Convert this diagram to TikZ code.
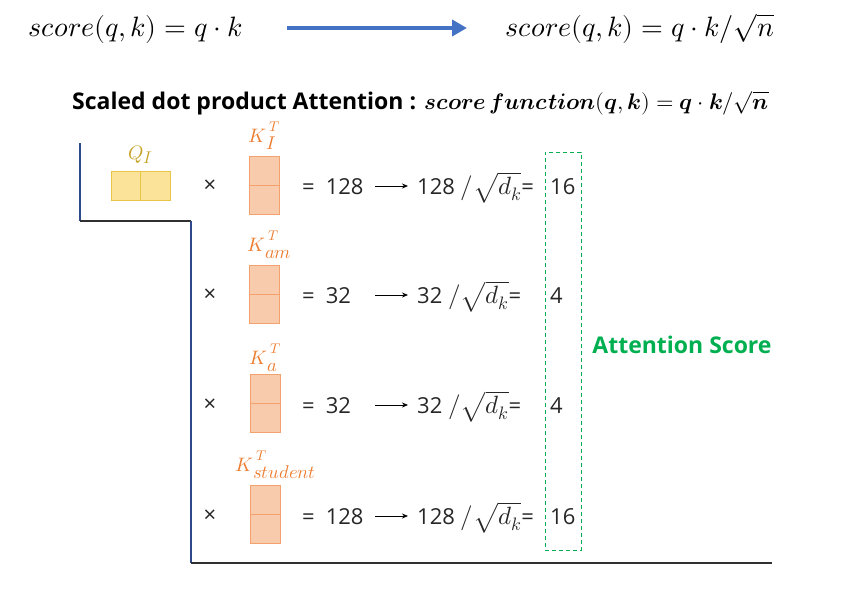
\documentclass[tikz,border=0pt]{standalone}
\usepackage{amsmath}
\usepackage{fontspec}
\usepackage{unicode-math}
\setmathfont{Latin Modern Math}
\newfontfamily\txtfont{Open Sans}
\usetikzlibrary{arrows.meta}
\definecolor{qfill}{HTML}{FBE39A}
\definecolor{qdraw}{HTML}{E8C547}
\definecolor{qtext}{HTML}{C8A22A}
\definecolor{kfill}{HTML}{F8CBAD}
\definecolor{kdraw}{HTML}{F4A26D}
\definecolor{ktext}{HTML}{ED7D31}
\definecolor{agreen}{HTML}{00B050}
\definecolor{ablue}{HTML}{4472C4}
\definecolor{lineblue}{HTML}{2F4A8A}
\definecolor{linedark}{HTML}{303030}
\tikzset{
  bigmath/.style={inner sep=0, font=\fontsize{28}{32}\selectfont},
  rowtxt/.style={anchor=base west, inner sep=0, font=\txtfont\fontsize{22}{26}\selectfont, text=black!85},
  qcell/.style={draw=qdraw, fill=qfill, minimum width=29.5, minimum height=29, inner sep=0, line width=0.8},
  kcell/.style={draw=kdraw, fill=kfill, minimum width=30, minimum height=29, inner sep=0, line width=0.8},
  klabel/.style={anchor=base west, inner sep=0, text=ktext, font=\fontsize{19.5}{22}\selectfont},
  frameblue/.style={draw=lineblue, line width=1.3},
  framedark/.style={draw=linedark, line width=1.3},
  rowarrow/.style={draw=black, line width=0.8, -{Stealth[length=6,width=5]}},
}
% text at a fixed size, in math italic
\newcommand{\fs}[2]{\hbox{\fontsize{#1}{#1}\selectfont$#2$}}
% K label: K, raised T, lowered subscript (all nearly full size)
\newcommand{\klab}[2]{$#1$\makebox[0pt][l]{\hspace{3pt}\raisebox{11pt}{\fs{14}{T}}}\raisebox{-7pt}{\fs{18.5}{#2}}}
\newcommand{\rowmath}{{\fontsize{25}{28}\selectfont$/\sqrt{d_{\fs{18}{k}}}$}}
\begin{document}
\begin{tikzpicture}[x=1pt,y=-1pt]
\useasboundingbox (0,0) rectangle (850,595);
% top formulas
\node[bigmath, anchor=base west] (f1) at (28,36) {$score(q,k)=q\cdot k$};
\node[bigmath, anchor=base west] (f2) at (505,36) {$score(q,k)=q\cdot k/\sqrt{n}$};
\coordinate (a1) at (287,28);
\coordinate (a2) at (467,28);
\draw[ablue, line width=4, -{Triangle[length=15,width=16]}] (a1) -- (a2);
% title
\node[anchor=base west, inner sep=0, font=\txtfont\bfseries\fontsize{23}{26}\selectfont] (title) at (72,109)
  {Scaled dot product Attention : {\fontsize{22.5}{26}\selectfont$\symbfit{score\,function}(\symbfit{q},\symbfit{k})=\symbfit{q}\cdot\symbfit{k}/\sqrt{\symbfit{n}}$}};
% frame
\coordinate (c1) at (80,143);
\coordinate (c2) at (80,221);
\coordinate (c3) at (191,221);
\coordinate (c4) at (191,563);
\coordinate (c5) at (772,563);
\draw[frameblue] (c1) -- (c2);
\draw[framedark] (c2) -- (c3);
\draw[frameblue] (c3) -- (c4);
\draw[framedark] (c4) -- (c5);
% Q
\node[qcell] (q1) at (126,185.5) {};
\node[qcell] (q2) at (155.5,185.5) {};
\node[anchor=base west, inner sep=0, text=qtext, font=\fontsize{19.5}{22}\selectfont] (ql) at (128,159.5) {$Q$\raisebox{-4pt}{\fs{17}{I}}};
% K boxes
\node[kcell] (k1a) at (264.5,170.5) {};
\node[kcell] (k1b) at (264.5,199.5) {};
\node[kcell] (k2a) at (264.5,279.5) {};
\node[kcell] (k2b) at (264.5,308.5) {};
\node[kcell] (k3a) at (265,388.5) {};
\node[kcell] (k3b) at (265,417.5) {};
\node[kcell] (k4a) at (265,500) {};
\node[kcell] (k4b) at (265,529) {};
\node[klabel] (kl1) at (248,142.5) {\klab{K}{I}};
\node[klabel] (kl2) at (247,251.5) {\klab{K}{am}};
\node[klabel] (kl3) at (249,364) {\klab{K}{a}};
\node[klabel] (kl4) at (235,471) {\klab{K}{student}};
% rows
\foreach \i/\y/\a/\c in {1/186/128/16, 2/295/32/4, 3/405/32/4, 4/516/128/16}{
  \node[inner sep=0, text=black!85, font=\txtfont\fontsize{22}{26}\selectfont] (x\i) at (210,\y) {×};
  \node[rowtxt] (e\i) at (302,\y+8.5) {=\hspace{11pt}\a};
  \coordinate (s\i) at (375,\y);
  \coordinate (t\i) at (408,\y);
  \draw[rowarrow] (s\i) -- (t\i);
  \node[rowtxt] (d\i) at (417,\y+8.5) {\a\ \rowmath=};
  \node[rowtxt] (r\i) at (550,\y+8.5) {\c};
}
% dashed box
\node[draw=agreen, dash pattern=on 4pt off 3pt, line width=1, minimum width=36, minimum height=398, inner sep=0] (db) at (563,351) {};
\node[inner sep=0, text=agreen, font=\txtfont\bfseries\fontsize{23}{26}\selectfont] (as) at (682,345) {Attention Score};
\end{tikzpicture}
\end{document}
